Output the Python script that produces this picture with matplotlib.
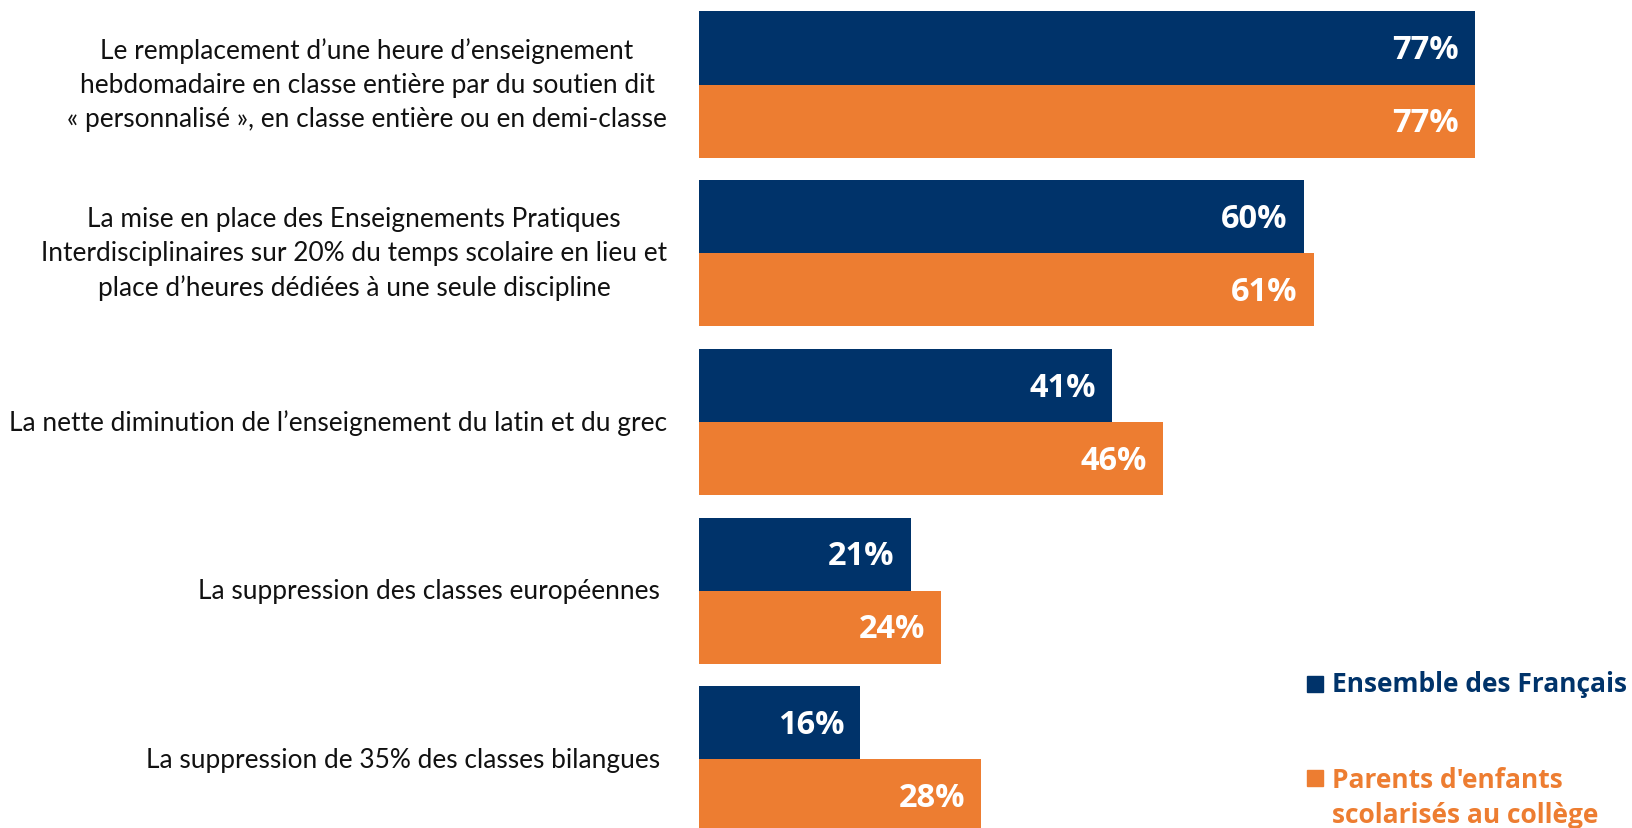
import numpy as np
import matplotlib.pyplot as plt
from matplotlib.patches import Rectangle

# Reform measures and share of respondents (%)
categories = [
    "Le remplacement d’une heure d’enseignement\nhebdomadaire en classe entière par du soutien dit\n« personnalisé », en classe entière ou en demi-classe",
    "La mise en place des Enseignements Pratiques\nInterdisciplinaires sur 20% du temps scolaire en lieu et\nplace d’heures dédiées à une seule discipline",
    "La nette diminution de l’enseignement du latin et du grec",
    "La suppression des classes européennes ",
    "La suppression de 35% des classes bilangues ",
]
ensemble = [77, 60, 41, 21, 16]
parents = [77, 61, 46, 24, 28]
series_names = ["Ensemble des Français", "Parents d'enfants\nscolarisés au collège"]

navy = '#00336A'
orange = '#ED7D31'

W, H = 1632, 829
fig = plt.figure(figsize=(W / 100, H / 100), dpi=100)
ax = fig.add_axes([699 / W, 0, (W - 699) / W, 1])

y = np.arange(len(categories))
h = 0.433
ax.barh(y - h / 2, ensemble, height=h, color=navy)
ax.barh(y + h / 2, parents, height=h, color=orange)

ax.set_xlim(0, (W - 699) / 10.08)
ax.set_ylim(4.407, -0.507)
ax.axis('off')

# value labels inside the bars
off = 1.6
for i in range(len(categories)):
    ax.text(ensemble[i] - off, y[i] - h / 2 + 0.01, f"{ensemble[i]}%", ha='right', va='center',
            color='white', fontsize=23.5, fontweight='bold', family='Open Sans')
    ax.text(parents[i] - off, y[i] + h / 2 + 0.01, f"{parents[i]}%", ha='right', va='center',
            color='white', fontsize=23.5, fontweight='bold', family='Open Sans')

# category labels on the left
for i, lab in enumerate(categories):
    ax.text(-32 / 10.08, y[i], lab, ha='right', va='center', multialignment='center',
            fontsize=18.9, family='Lato', color='#111111', linespacing=1.45)

# legend
fig.patches.append(Rectangle((1307 / W, 1 - 693 / H), 16 / W, 16 / H, color=navy,
                             transform=fig.transFigure))
fig.text(1332 / W, 1 - 685 / H, series_names[0], ha='left', va='center',
         fontsize=19, fontweight='bold', color=navy, family='Open Sans')
fig.patches.append(Rectangle((1307 / W, 1 - 787 / H), 16 / W, 16 / H, color=orange,
                             transform=fig.transFigure))
fig.text(1332 / W, 1 - 798 / H, series_names[1], ha='left', va='center',
         fontsize=19, fontweight='bold', color=orange, family='Open Sans', linespacing=1.35)

fig.savefig('out.png', dpi=100)
